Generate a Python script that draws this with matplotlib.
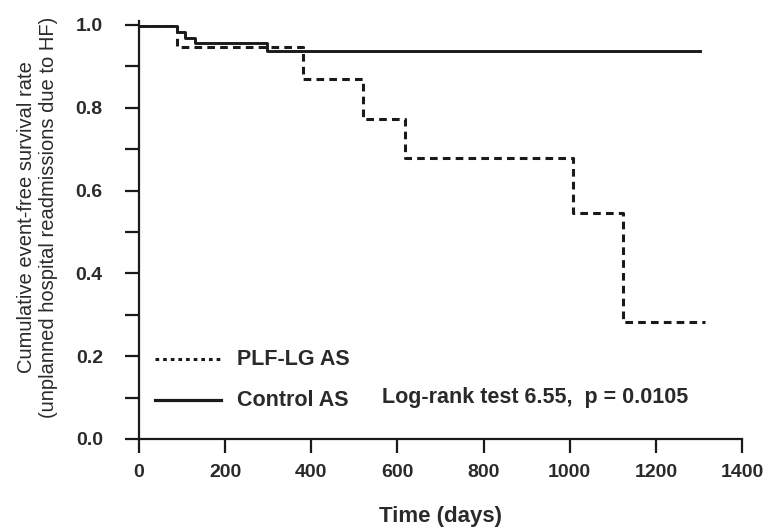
import numpy as np
import matplotlib.pyplot as plt
from matplotlib.lines import Line2D
from matplotlib.ticker import MultipleLocator

plt.rcParams['font.family'] = ['Liberation Sans', 'DejaVu Sans']

# Kaplan-Meier step data (days, event-free survival)
plf_days = [0, 88, 381, 520, 618, 1007, 1123, 1314]
plf_surv = [1.0, 0.948, 0.870, 0.772, 0.678, 0.545, 0.283, 0.283]

ctrl_days = [0, 88, 107, 130, 297, 1302]
ctrl_surv = [0.997, 0.984, 0.969, 0.956, 0.936, 0.936]

x_ticks = [0, 200, 400, 600, 800, 1000, 1200, 1400]
y_ticks = [0.0, 0.2, 0.4, 0.6, 0.8, 1.0]

ink = '#1a1a1a'
txt = '#2a2a2a'

fig = plt.figure(figsize=(7.67, 5.28), dpi=100)
ax = fig.add_axes([0.1812, 0.1686, 0.7862, 0.7841])

ax.step(plf_days, plf_surv, where='post', color=ink, lw=2.2, dashes=(2.5, 1.7))
ax.step(ctrl_days, ctrl_surv, where='post', color=ink, lw=2.1)

ax.set_xlim(0, 1400)
ax.set_ylim(0, 1.0)
ax.set_xticks(x_ticks)
ax.set_yticks(y_ticks)
ax.yaxis.set_minor_locator(MultipleLocator(0.1))
ax.set_xticklabels([str(t) for t in x_ticks], fontsize=14, fontweight='bold', color=txt)
ax.set_yticklabels(['%.1f' % t for t in y_ticks], fontsize=14, fontweight='bold', color=txt)

for s in ['top', 'right']:
    ax.spines[s].set_visible(False)
for s in ['left', 'bottom']:
    ax.spines[s].set_linewidth(1.6)
    ax.spines[s].set_color(ink)
ax.spines['left'].set_bounds(0, 1.01)
ax.tick_params(which='both', direction='out', width=1.6, color=ink, length=10)
ax.tick_params(axis='y', which='major', pad=16)
ax.tick_params(axis='x', which='major', pad=8)

ax.set_xlabel('Time (days)', fontsize=16, fontweight='bold', color=txt, labelpad=18)
fig.text(37.5 / 767, 0.589,
         'Cumulative event-free survival rate\n(unplanned hospital readmissions due to HF)',
         rotation=90, ha='center', va='center', fontsize=14.5, color=txt,
         linespacing=1.25, multialignment='center')

# legend keys and labels
ax.add_line(Line2D([0.0265, 0.136], [0.193, 0.193], transform=ax.transAxes,
                   color=ink, lw=2.2, dashes=(1.2, 1.3)))
ax.add_line(Line2D([0.0265, 0.136], [0.094, 0.094], transform=ax.transAxes,
                   color=ink, lw=2.3))
ax.text(0.1625, 0.193, 'PLF-LG AS', transform=ax.transAxes, fontsize=15.5,
        fontweight='bold', color=txt, va='center')
ax.text(0.1625, 0.094, 'Control AS', transform=ax.transAxes, fontsize=15.5,
        fontweight='bold', color=txt, va='center')
ax.text(0.403, 0.101, 'Log-rank test 6.55,  p = 0.0105', transform=ax.transAxes,
        fontsize=15.5, fontweight='bold', color=txt, va='center')

fig.savefig('out.png', dpi=100)
